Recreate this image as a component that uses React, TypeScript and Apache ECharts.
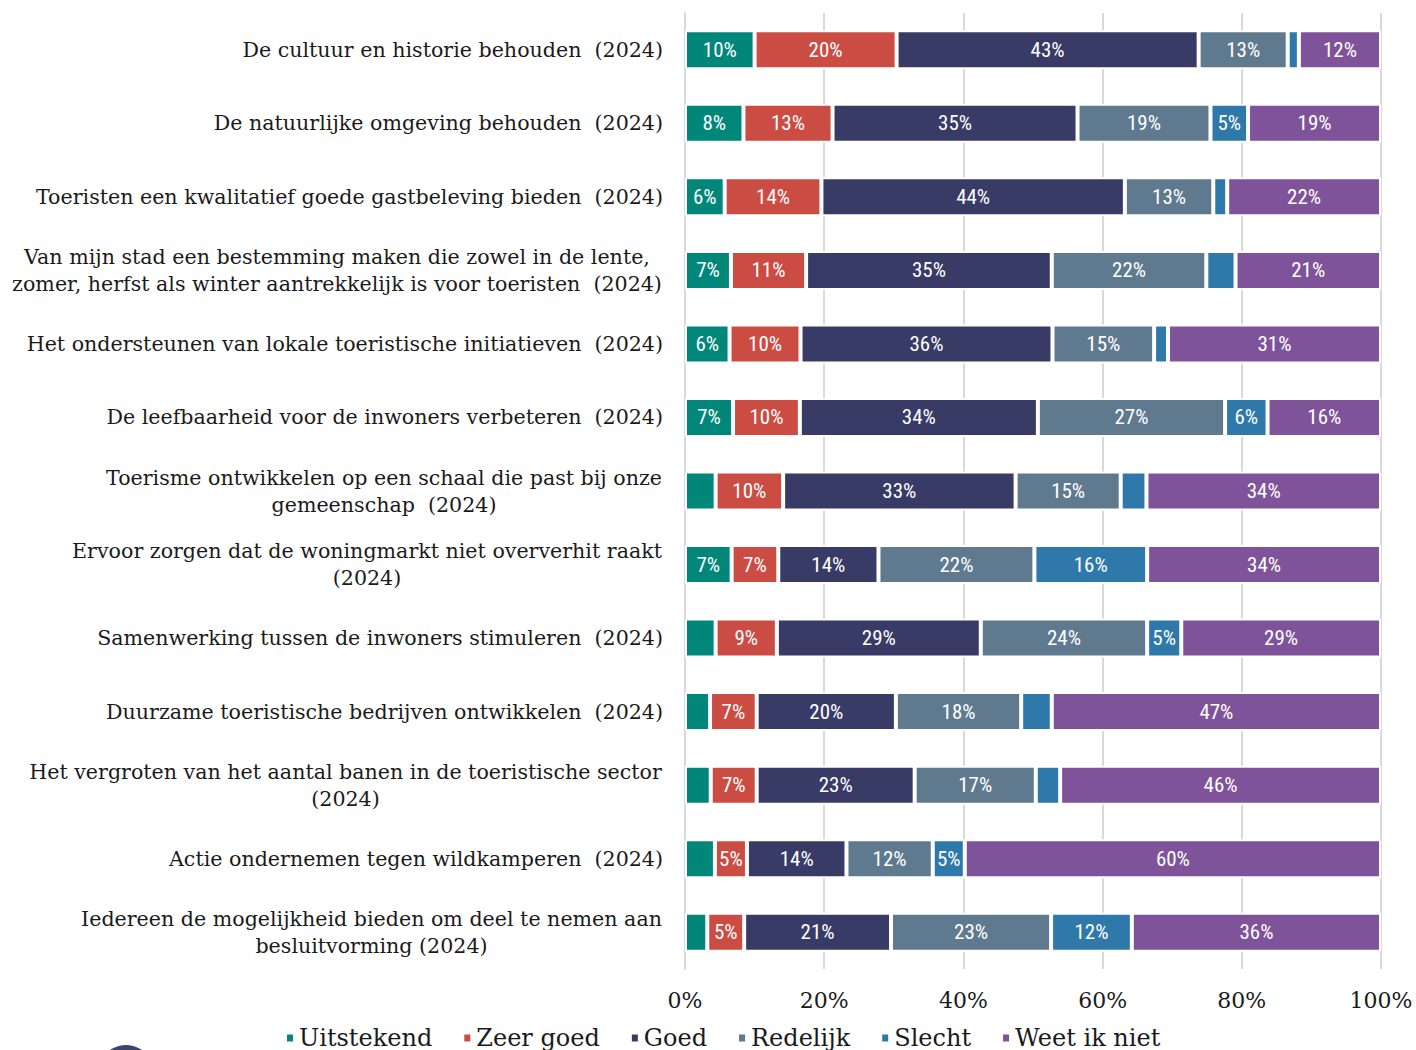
import React, { useEffect, useRef } from "react";
import * as echarts from "echarts";

const categories = [
  "De cultuur en historie behouden  (2024)",
  "De natuurlijke omgeving behouden  (2024)",
  "Toeristen een kwalitatief goede gastbeleving bieden  (2024)",
  "Van mijn stad een bestemming maken die zowel in de lente,\nzomer, herfst als winter aantrekkelijk is voor toeristen  (2024)",
  "Het ondersteunen van lokale toeristische initiatieven  (2024)",
  "De leefbaarheid voor de inwoners verbeteren  (2024)",
  "Toerisme ontwikkelen op een schaal die past bij onze\ngemeenschap  (2024)",
  "Ervoor zorgen dat de woningmarkt niet oververhit raakt\n(2024)",
  "Samenwerking tussen de inwoners stimuleren  (2024)",
  "Duurzame toeristische bedrijven ontwikkelen  (2024)",
  "Het vergroten van het aantal banen in de toeristische sector\n(2024)",
  "Actie ondernemen tegen wildkamperen  (2024)",
  "Iedereen de mogelijkheid bieden om deel te nemen aan\nbesluitvorming (2024)",
];

const seriesNames = ["Uitstekend", "Zeer goed", "Goed", "Redelijk", "Slecht", "Weet ik niet"];

const uitstekend = [10.0, 8.4, 5.7, 6.6, 6.4, 6.9, 4.4, 6.7, 4.4, 3.6, 3.7, 4.3, 3.2];
const zeerGoed = [20.4, 12.8, 13.9, 10.8, 10.2, 9.6, 9.7, 6.7, 8.8, 6.7, 6.6, 4.6, 5.3];
const goed = [43.4, 35.2, 43.6, 35.3, 36.2, 34.2, 33.4, 14.4, 29.3, 20.0, 22.7, 14.3, 21.1];
const redelijk = [12.8, 19.1, 12.7, 22.2, 14.6, 26.9, 15.1, 22.4, 23.9, 18.0, 17.4, 12.4, 23.0];
const slecht = [1.6, 5.4, 2.0, 4.2, 2.0, 6.1, 3.7, 16.2, 4.9, 4.4, 3.5, 4.6, 11.6];
const weetIkNiet = [11.8, 19.1, 22.1, 20.9, 30.6, 16.3, 33.7, 33.6, 28.7, 47.3, 46.1, 59.8, 35.8];

const xTicks = [0, 20, 40, 60, 80, 100];

const colors = ["#00877a", "#cb4c43", "#383b66", "#5f7a8f", "#2e79aa", "#7f5399"];

const SERIF = '"DejaVu Serif", "Liberation Serif", serif';
const COND = '"Roboto Condensed", "Liberation Sans Narrow", "DejaVu Sans Condensed", Roboto, sans-serif';
const CAT_FS = 20.6;

export default function App() {
  const ref = useRef<HTMLDivElement>(null);

  useEffect(() => {
    if (!ref.current) return;
    const chart = echarts.init(ref.current, undefined, { renderer: "svg" });

    const canvas = document.createElement("canvas");
    const ctx = canvas.getContext("2d")!;
    ctx.font = `${CAT_FS}px ${SERIF}`;
    const rich: Record<string, any> = {};
    categories.forEach((c, i) => {
      if (c.includes("\n")) {
        const w = Math.max(...c.split("\n").map((l) => ctx.measureText(l).width));
        rich["m" + i] = {
          width: Math.ceil(w) + 2,
          align: "center",
          fontSize: CAT_FS,
          fontFamily: SERIF,
          color: "#1a1a1a",
          lineHeight: 27,
        };
      }
    });

    const dataSets = [uitstekend, zeerGoed, goed, redelijk, slecht, weetIkNiet];

    chart.setOption({
      animation: false,
      backgroundColor: "#ffffff",
      grid: { left: 685, right: 35, top: 13, bottom: 81, containLabel: false },
      legend: {
        data: seriesNames,
        left: 280,
        top: 1021,
        icon: "rect",
        itemWidth: 8,
        itemHeight: 9,
        itemGap: 30,
        textStyle: { fontFamily: SERIF, fontSize: 24, color: "#1a1a1a" },
      },
      xAxis: {
        type: "value",
        min: xTicks[0],
        max: xTicks[xTicks.length - 1],
        interval: 20,
        axisLine: { show: false },
        axisTick: { show: false },
        axisLabel: {
          formatter: "{value}%",
          fontFamily: SERIF,
          fontSize: 22,
          color: "#1a1a1a",
          margin: 20,
        },
        splitLine: { show: true, lineStyle: { color: "#d9d9d9", width: 2 } },
      },
      yAxis: {
        type: "category",
        inverse: true,
        data: categories,
        axisLine: { show: true, lineStyle: { color: "#d9d9d9", width: 2 } },
        axisTick: { show: false },
        axisLabel: {
          margin: 22,
          fontFamily: SERIF,
          fontSize: CAT_FS,
          color: "#1a1a1a",
          lineHeight: 27,
          align: "right",
          rich,
          formatter: (value: string, index: number) => {
            if (value.includes("\n")) {
              return value
                .split("\n")
                .map((l) => `{m${index}|${l}}`)
                .join("\n");
            }
            return value;
          },
        },
      },
      series: seriesNames.map((name, si) => ({
        name,
        type: "bar",
        stack: "total",
        barWidth: 39,
        data: dataSets[si],
        itemStyle: { color: colors[si], borderColor: "#ffffff", borderWidth: 2 },
        label: {
          show: true,
          position: "inside",
          color: "#ffffff",
          fontFamily: COND,
          fontSize: 21,
          formatter: (p: any) => (p.value >= 4.5 ? Math.round(p.value) + "%" : ""),
        },
      })),
      graphic: [
        {
          type: "circle",
          shape: { cx: 126, cy: 1073, r: 28 },
          style: { fill: "#3b4570" },
        },
      ],
    });

    return () => chart.dispose();
  }, []);

  return (
    <div
      ref={ref}
      style={{ position: "fixed", left: 0, top: 0, width: 1416, height: 1050, background: "#fff" }}
    />
  );
}
